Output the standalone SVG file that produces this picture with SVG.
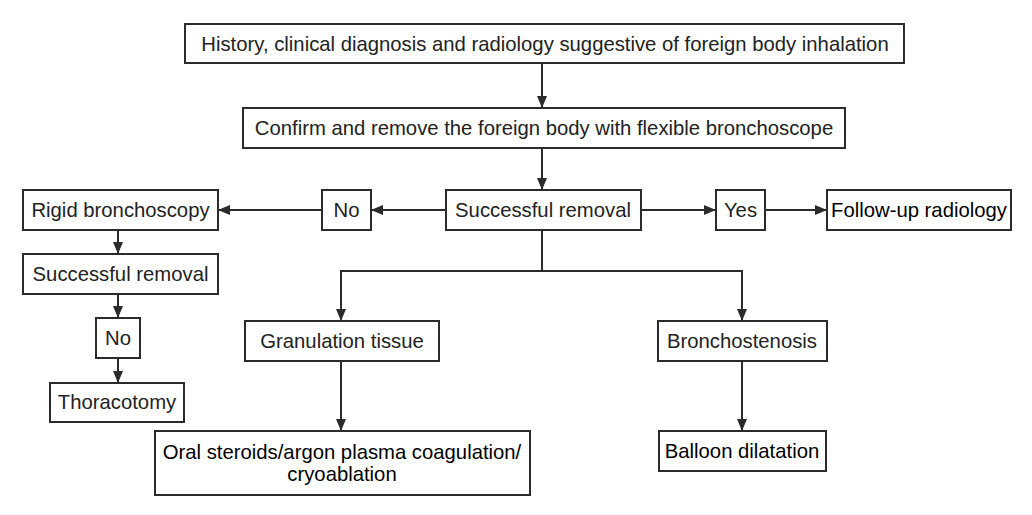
<svg xmlns="http://www.w3.org/2000/svg" width="1032" height="515" viewBox="0 0 1032 515">
<defs>
<marker id="ah" viewBox="0 0 12 10" refX="12" refY="5" markerWidth="12" markerHeight="10" markerUnits="userSpaceOnUse" orient="auto">
<path d="M0,0 L12,5 L0,10 z" fill="#2b2b2b"/>
</marker>
<style>
.box{fill:#fff;stroke:#2b2b2b;stroke-width:2}
.t{font-family:"Liberation Sans",Arial,sans-serif;font-size:20.3px;fill:#222;text-anchor:middle}
.c{fill:none;stroke:#2b2b2b;stroke-width:2}
.a{marker-end:url(#ah)}
</style>
</defs>
<rect width="1032" height="515" fill="#fff"/>
<g id="connectors">
<line class="c a" x1="542" y1="63" x2="542" y2="108"/>
<line class="c a" x1="542" y1="148" x2="542" y2="190"/>
<line class="c a" x1="446" y1="210" x2="371" y2="210"/>
<line class="c a" x1="322" y1="210" x2="218" y2="210"/>
<line class="c a" x1="641" y1="210" x2="716" y2="210"/>
<line class="c a" x1="765" y1="210" x2="827" y2="210"/>
<line class="c a" x1="118" y1="230" x2="118" y2="254"/>
<line class="c a" x1="118" y1="294" x2="118" y2="318"/>
<line class="c a" x1="118" y1="358" x2="118" y2="383"/>
<polyline class="c" points="542,230 542,271"/>
<polyline class="c a" points="742,271 341,271 341,321"/>
<line class="c a" x1="742" y1="270" x2="742" y2="321"/>
<line class="c a" x1="341" y1="361" x2="341" y2="431"/>
<line class="c a" x1="742" y1="361" x2="742" y2="431"/>
</g>
<g id="history">
<rect class="box" x="185" y="24" width="719" height="39"/>
<text class="t" x="545" y="51">History, clinical diagnosis and radiology suggestive of foreign body inhalation</text>
</g>
<g id="confirm">
<rect class="box" x="243" y="108" width="602" height="40"/>
<text class="t" x="544" y="135">Confirm and remove the foreign body with flexible bronchoscope</text>
</g>
<g id="success-main">
<rect class="box" x="446" y="190" width="195" height="40"/>
<text class="t" x="543" y="217">Successful removal</text>
</g>
<g id="no-main">
<rect class="box" x="322" y="190" width="49" height="40"/>
<text class="t" x="346.5" y="217">No</text>
</g>
<g id="rigid">
<rect class="box" x="23" y="190" width="195" height="40"/>
<text class="t" x="120.5" y="217">Rigid bronchoscopy</text>
</g>
<g id="yes">
<rect class="box" x="716" y="190" width="49" height="40"/>
<text class="t" x="740.5" y="217">Yes</text>
</g>
<g id="followup">
<rect class="box" x="827" y="190" width="184" height="40"/>
<text class="t" x="919" y="217" style="fill:#000">Follow-up radiology</text>
</g>
<g id="success-left">
<rect class="box" x="23" y="254" width="195" height="40"/>
<text class="t" x="120.5" y="281">Successful removal</text>
</g>
<g id="no-left">
<rect class="box" x="96" y="318" width="44" height="40"/>
<text class="t" x="118" y="345">No</text>
</g>
<g id="thoracotomy">
<rect class="box" x="50" y="383" width="134" height="39"/>
<text class="t" x="117" y="409">Thoracotomy</text>
</g>
<g id="granulation">
<rect class="box" x="245" y="321" width="194" height="40"/>
<text class="t" x="342" y="348">Granulation tissue</text>
</g>
<g id="bronchostenosis">
<rect class="box" x="658" y="321" width="169" height="40"/>
<text class="t" x="742" y="348">Bronchostenosis</text>
</g>
<g id="oral">
<rect class="box" x="155" y="431" width="375" height="64"/>
<text class="t" x="342" y="459" style="fill:#000">Oral steroids/argon plasma coagulation/</text>
<text class="t" x="342" y="481" style="fill:#000">cryoablation</text>
</g>
<g id="balloon">
<rect class="box" x="659" y="431" width="167" height="40"/>
<text class="t" x="742" y="458" style="fill:#000">Balloon dilatation</text>
</g>
</svg>
